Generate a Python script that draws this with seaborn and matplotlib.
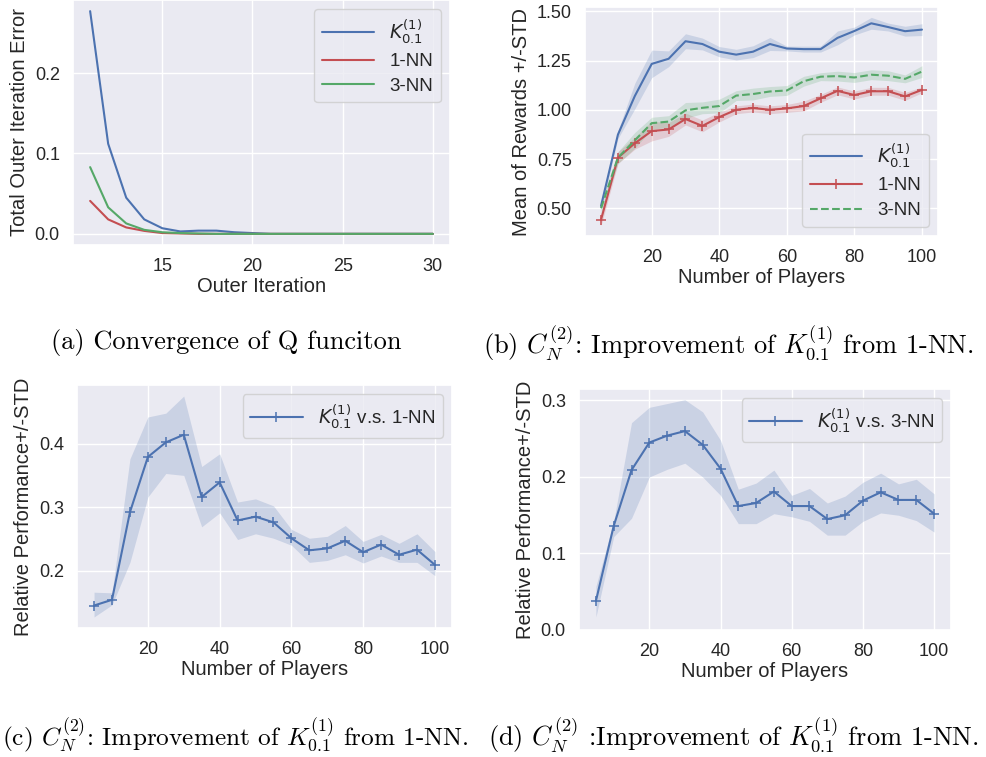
import numpy as np
import pandas as pd
import matplotlib
matplotlib.use("Agg")
import matplotlib.pyplot as plt
import seaborn as sns

# ========== DATA ==========
# (a) convergence of the Q function
iterations = list(range(11, 31))
err_k = [0.277, 0.112, 0.045, 0.018, 0.007, 0.003, 0.004, 0.004, 0.002, 0.001,
         0, 0, 0, 0, 0, 0, 0, 0, 0, 0]
err_1nn = [0.041, 0.018, 0.008, 0.0037, 0.001, 0.0005, 0, 0, 0, 0,
           0, 0, 0, 0, 0, 0, 0, 0, 0, 0]
err_3nn = [0.083, 0.033, 0.013, 0.005, 0.002, 0.001, 0.0005, 0, 0, 0,
           0, 0, 0, 0, 0, 0, 0, 0, 0, 0]

# (b) mean rewards with std
players = list(range(5, 101, 5))
rew_k = [0.512, 0.874, 1.07, 1.233, 1.259, 1.348, 1.334, 1.295, 1.28, 1.295,
         1.334, 1.311, 1.308, 1.308, 1.365, 1.40, 1.439, 1.42, 1.399, 1.407]
std_k = [0.02, 0.02, 0.065, 0.07, 0.04, 0.038, 0.03, 0.026, 0.027, 0.03,
         0.033, 0.012, 0.015, 0.015, 0.035, 0.02, 0.03, 0.02, 0.025, 0.03]
rew_1nn = [0.442, 0.757, 0.830, 0.892, 0.90, 0.953, 0.918, 0.963, 1.0, 1.009,
           1.0, 1.007, 1.019, 1.058, 1.096, 1.075, 1.094, 1.094, 1.068, 1.101]
std_1nn = [0.03, 0.03, 0.03, 0.05, 0.035, 0.03, 0.03, 0.025, 0.02, 0.02,
           0.02, 0.02, 0.025, 0.02, 0.02, 0.02, 0.02, 0.02, 0.02, 0.015]
rew_3nn = [0.50, 0.757, 0.845, 0.932, 0.94, 0.997, 1.01, 1.019, 1.072, 1.08,
           1.093, 1.098, 1.145, 1.168, 1.171, 1.164, 1.178, 1.173, 1.157, 1.194]
std_3nn = [0.03, 0.03, 0.04, 0.03, 0.03, 0.04, 0.03, 0.035, 0.025, 0.03,
           0.025, 0.025, 0.025, 0.02, 0.025, 0.025, 0.025, 0.025, 0.02, 0.03]

# (c) relative performance vs 1-NN
rel_1nn = [0.145, 0.154, 0.292, 0.379, 0.402, 0.414, 0.316, 0.339, 0.279, 0.285,
           0.276, 0.251, 0.232, 0.235, 0.247, 0.229, 0.241, 0.225, 0.233, 0.209]
rel_1nn_hi = [0.166, 0.165, 0.376, 0.442, 0.448, 0.475, 0.364, 0.384, 0.308, 0.313,
              0.302, 0.265, 0.251, 0.254, 0.271, 0.246, 0.257, 0.243, 0.258, 0.230]
rel_1nn_lo = [0.127, 0.146, 0.213, 0.316, 0.353, 0.350, 0.269, 0.291, 0.249, 0.258,
              0.251, 0.240, 0.213, 0.216, 0.225, 0.212, 0.223, 0.213, 0.213, 0.192]

# (d) relative performance vs 3-NN
rel_3nn = [0.038, 0.136, 0.209, 0.245, 0.254, 0.260, 0.242, 0.211, 0.162, 0.166,
           0.181, 0.162, 0.162, 0.145, 0.150, 0.169, 0.180, 0.170, 0.170, 0.152]
rel_3nn_hi = [0.057, 0.142, 0.271, 0.291, 0.296, 0.301, 0.285, 0.248, 0.184, 0.192,
              0.209, 0.176, 0.185, 0.166, 0.175, 0.193, 0.205, 0.191, 0.197, 0.178]
rel_3nn_lo = [0.017, 0.122, 0.146, 0.200, 0.210, 0.218, 0.200, 0.176, 0.139, 0.139,
              0.152, 0.148, 0.142, 0.124, 0.124, 0.142, 0.153, 0.150, 0.143, 0.128]

K_LABEL = r"$K_{0.1}^{(1)}$"
CAPTIONS = [
    "(a) Convergence of Q funciton",
    r"(b) $C_N^{(2)}$: Improvement of $K_{0.1}^{(1)}$ from 1-NN.",
    r"(c) $C_N^{(2)}$: Improvement of $K_{0.1}^{(1)}$ from 1-NN.",
    r"(d) $C_N^{(2)}$ :Improvement of $K_{0.1}^{(1)}$ from 1-NN.",
]

# ========== STYLE ==========
sns.set_theme(style="darkgrid", palette="deep", color_codes=True)
plt.rcParams["font.family"] = ["Liberation Sans", "DejaVu Sans"]
plt.rcParams["xtick.labelsize"] = 13
plt.rcParams["ytick.labelsize"] = 13
plt.rcParams["axes.labelsize"] = 14.5
plt.rcParams["legend.fontsize"] = 13.5

W, H = 986, 757
fig = plt.figure(figsize=(W / 100, H / 100), dpi=100)


def px_axes(left, top, right, bottom):
    return fig.add_axes([left / W, 1 - bottom / H, (right - left) / W, (bottom - top) / H])


ax_a = px_axes(73, 0, 450, 245)
ax_b = px_axes(585, 7, 938, 236)
ax_c = px_axes(77, 385, 452, 628)
ax_d = px_axes(579, 389, 951, 630)

MARK = dict(marker="+", markersize=7, markeredgewidth=1.1)

# ---- (a) ----
df_a = pd.DataFrame({"it": iterations, "k": err_k, "nn1": err_1nn, "nn3": err_3nn})
sns.lineplot(data=df_a, x="it", y="k", color="b", lw=1.5, label=K_LABEL, ax=ax_a)
sns.lineplot(data=df_a, x="it", y="nn1", color="r", lw=1.5, label="1-NN", ax=ax_a)
sns.lineplot(data=df_a, x="it", y="nn3", color="g", lw=1.5, label="3-NN", ax=ax_a)
ax_a.set_xlabel("Outer Iteration", labelpad=1)
ax_a.set_ylabel("Total Outer Iteration Error")
ax_a.legend(loc="upper right", handlelength=2.8, labelspacing=0.4)

# ---- (b) ----
df_b = pd.DataFrame({"n": players, "k": rew_k, "nn1": rew_1nn, "nn3": rew_3nn})
for col, sd, c in [("k", std_k, "b"), ("nn1", std_1nn, "r"), ("nn3", std_3nn, "g")]:
    m = df_b[col].to_numpy()
    ax_b.fill_between(df_b["n"], m - np.array(sd), m + np.array(sd), color=c, alpha=0.2, lw=0)
sns.lineplot(data=df_b, x="n", y="k", color="b", lw=1.5, label=K_LABEL, ax=ax_b)
sns.lineplot(data=df_b, x="n", y="nn1", color="r", lw=1.5, markeredgecolor="r",
             label="1-NN", ax=ax_b, **MARK)
sns.lineplot(data=df_b, x="n", y="nn3", color="g", lw=1.5, linestyle="--", label="3-NN", ax=ax_b)
ax_b.set_xlabel("Number of Players", labelpad=1)
ax_b.set_ylabel("Mean of Rewards +/-STD")
ax_b.set_yticks([0.5, 0.75, 1.0, 1.25, 1.5])
ax_b.legend(loc="lower right", handlelength=2.8, labelspacing=0.4)

# ---- (c) and (d) ----
for ax, mean, lo, hi, lab in [(ax_c, rel_1nn, rel_1nn_lo, rel_1nn_hi, "1-NN"),
                              (ax_d, rel_3nn, rel_3nn_lo, rel_3nn_hi, "3-NN")]:
    ax.fill_between(players, lo, hi, color="b", alpha=0.2, lw=0)
    sns.lineplot(x=players, y=mean, color="b", lw=1.5, markeredgecolor="b",
                 label=K_LABEL + " v.s. " + lab, ax=ax, **MARK)
    ax.set_xlabel("Number of Players", labelpad=1)
    ax.set_ylabel("Relative Performance+/-STD")
    ax.legend(loc="upper right", handlelength=2.8)
ax_d.set_ylim(0, 0.315)

# ---- captions ----
cap_kw = dict(family="cmr10", math_fontfamily="cm", va="center", color="black")
fig.text(226 / W, 1 - 343 / H, CAPTIONS[0], ha="center", fontsize=19, **cap_kw)
fig.text(483 / W, 1 - 343 / H, CAPTIONS[1], ha="left", fontsize=19, **cap_kw)
# (c) is slightly smaller so it fits inside the left edge
fig.text(2 / W, 1 - 735 / H, CAPTIONS[2], ha="left", fontsize=18.2, **cap_kw)
fig.text(488 / W, 1 - 735 / H, CAPTIONS[3], ha="left", fontsize=19, **cap_kw)

fig.savefig("out.png", dpi=100)
